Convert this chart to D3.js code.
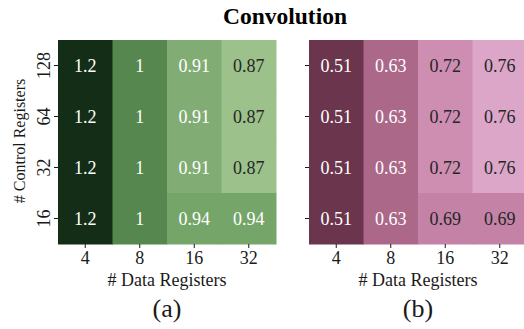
<!DOCTYPE html>
<html>
<head>
<meta charset="utf-8">
<script src="https://cdn.jsdelivr.net/npm/d3@7"></script>
<style>
  body { margin: 0; background: #fff; }
  svg text { font-family: "Liberation Serif", "Times New Roman", serif; }
</style>
</head>
<body>
<div id="vis"></div>
<script>
// data
var dataRegs = ["4", "8", "16", "32"];
var ctrlRegs = ["128", "64", "32", "16"];
var valuesA = [
    [1.2, 1, 0.91, 0.87],
    [1.2, 1, 0.91, 0.87],
    [1.2, 1, 0.91, 0.87],
    [1.2, 1, 0.94, 0.94]
];
var valuesB = [
    [0.51, 0.63, 0.72, 0.76],
    [0.51, 0.63, 0.72, 0.76],
    [0.51, 0.63, 0.72, 0.76],
    [0.51, 0.63, 0.69, 0.69]
];

var width = 524, height = 329;
var plotTop = 40, plotBottom = 244;

var svg = d3.select("#vis").append("svg")
    .attr("width", width)
    .attr("height", height);

// color scales
var greens = d3.scaleLinear()
    .domain([0.87, 0.91, 0.94, 1.0, 1.2])
    .range(["#9cc18b", "#81ad75", "#76a569", "#55874f", "#132d17"]);
var pinks = d3.scaleLinear()
    .domain([0.51, 0.63, 0.69, 0.72, 0.76])
    .range(["#6b364d", "#ab6889", "#c483a6", "#cd8eb2", "#dca6c9"]);

var y = d3.scaleBand().domain(ctrlRegs).range([plotTop, plotBottom]);

function fmt(v) { return d3.format("~g")(v); }

function drawPanel(x0, x1, values, color, label, showY) {
    var x = d3.scaleBand().domain(dataRegs).range([x0, x1]);
    var g = svg.append("g");

    var cells = [];
    values.forEach(function(row, i) {
        row.forEach(function(v, j) {
            cells.push({ r: ctrlRegs[i], c: dataRegs[j], v: v });
        });
    });

    g.selectAll("rect").data(cells).enter().append("rect")
        .attr("x", d => x(d.c))
        .attr("y", d => y(d.r))
        .attr("width", x.bandwidth() + 0.5)
        .attr("height", y.bandwidth() + 0.5)
        .attr("fill", d => color(d.v));

    g.selectAll("text.val").data(cells).enter().append("text")
        .attr("class", "val")
        .attr("x", d => x(d.c) + x.bandwidth() / 2)
        .attr("y", d => y(d.r) + y.bandwidth() / 2)
        .attr("dy", "0.34em")
        .attr("text-anchor", "middle")
        .attr("font-size", 18)
        .attr("fill", d => d3.hsl(color(d.v)).l > 0.62 ? "#262626" : "#ffffff")
        .text(d => fmt(d.v));

    // x axis
    var xAxis = svg.append("g")
        .attr("transform", "translate(0," + plotBottom + ")")
        .call(d3.axisBottom(x).tickSize(4).tickPadding(3));
    xAxis.select(".domain").remove();
    xAxis.selectAll("text").attr("font-size", 18).attr("fill", "#1a1a1a")
        .style("font-family", "Liberation Serif");
    xAxis.selectAll("line").attr("stroke", "#1a1a1a");

    svg.append("text")
        .attr("x", (x0 + x1) / 2)
        .attr("y", 286)
        .attr("text-anchor", "middle")
        .attr("font-size", 18)
        .attr("fill", "#1a1a1a")
        .text("# Data Registers");

    svg.append("text")
        .attr("x", (x0 + x1) / 2)
        .attr("y", 317)
        .attr("text-anchor", "middle")
        .attr("font-size", 26)
        .attr("fill", "#1a1a1a")
        .text(label);

    // y axis
    var yAxis = svg.append("g")
        .attr("transform", "translate(" + x0 + ",0)")
        .call(d3.axisLeft(y).tickSize(4).tickPadding(3));
    yAxis.select(".domain").remove();
    yAxis.selectAll("line").attr("stroke", "#1a1a1a");
    if (showY) {
        yAxis.selectAll("text")
            .attr("font-size", 18)
            .attr("fill", "#1a1a1a")
            .style("font-family", "Liberation Serif")
            .attr("text-anchor", "middle")
            .attr("dy", null)
            .attr("x", null)
            .attr("transform", "translate(-8,0) rotate(-90)");
    } else {
        yAxis.selectAll("text").remove();
    }
}

drawPanel(58, 276, valuesA, greens, "(a)", true);
drawPanel(309, 527, valuesB, pinks, "(b)", false);

// y label
svg.append("text")
    .attr("transform", "translate(25," + 141 + ") rotate(-90)")
    .attr("text-anchor", "middle")
    .attr("font-size", 16)
    .attr("fill", "#1a1a1a")
    .text("# Control Registers");

// title
svg.append("text")
    .attr("x", 285)
    .attr("y", 24)
    .attr("text-anchor", "middle")
    .attr("font-size", 23.5)
    .attr("font-weight", "bold")
    .attr("fill", "#000")
    .text("Convolution");
</script>
</body>
</html>
